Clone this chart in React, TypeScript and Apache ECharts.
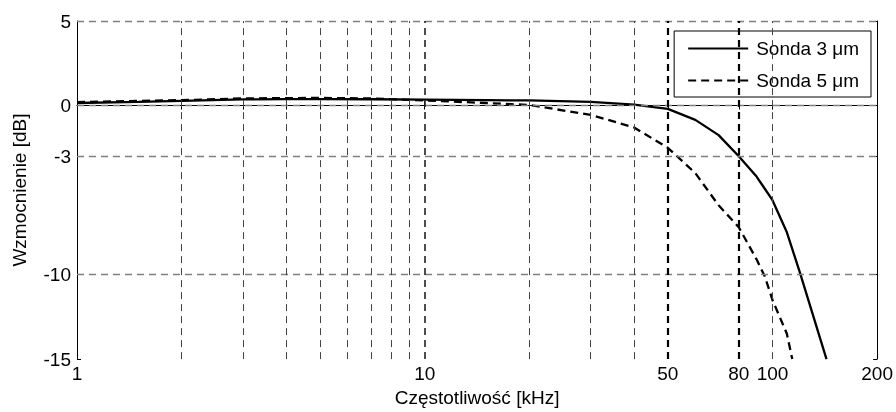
import React, { useEffect, useRef } from "react";
import * as echarts from "echarts";

// Frequency (kHz) and gain (dB)
const freq3 = [1, 1.5, 2, 3, 4, 5, 7, 10, 15, 20, 30, 40, 50, 60, 70, 80, 90, 100, 110, 120, 143];
const gain3 = [0.15, 0.22, 0.28, 0.36, 0.38, 0.38, 0.37, 0.35, 0.32, 0.3, 0.22, 0.05, -0.2, -0.85, -1.75, -3.0, -4.2, -5.6, -7.5, -9.9, -15];
const freq5 = [1, 2, 3, 5, 7, 10, 15, 20, 30, 40, 50, 60, 70, 80, 90, 95, 100, 110, 114];
const gain5 = [0.2, 0.32, 0.42, 0.45, 0.42, 0.3, 0.15, 0.03, -0.55, -1.3, -2.5, -4.0, -5.9, -7.2, -9.1, -10.1, -11.5, -13.5, -15];

const seriesNames = ["Sonda 3 \u03bcm", "Sonda 5 \u03bcm"];
const xTickLabels = [1, 10, 50, 80, 100, 200];
const xMinorTicks = [2, 3, 4, 5, 6, 7, 8, 9, 10, 20, 30, 40, 50, 80, 100];
const xGridThin = [2, 3, 4, 5, 6, 7, 8, 9, 20, 30, 40, 100];
const xGridMid = [10];
const xGridBold = [50, 80];
const yTickLabels = [-15, -10, -3, 0, 5];
const yGrid = [5, 0, -3, -10];

const FONT = "'Liberation Sans', Arial, sans-serif";
const FS = 19;

export default function App() {
  const ref = useRef<HTMLDivElement>(null);
  useEffect(() => {
    if (!ref.current) return;
    const chart = echarts.init(ref.current, undefined, { renderer: "svg" });
    const dash = [7, 5];
    const xAxisBase = {
      type: "log" as const,
      logBase: 10,
      min: 1,
      max: 200,
      splitLine: { show: false },
      minorTick: { show: false },
      axisLine: { show: true, lineStyle: { color: "#000", width: 1 } },
      axisTick: {
        show: true,
        inside: true,
        length: 4,
        customValues: xMinorTicks,
        lineStyle: { color: "#000", width: 1 },
      },
    };
    const yAxisBase = {
      type: "value" as const,
      min: -15,
      max: 5,
      splitLine: { show: false },
      axisLine: { show: true, lineStyle: { color: "#000", width: 1 } },
      axisTick: {
        show: true,
        inside: true,
        length: 4,
        customValues: yTickLabels,
        lineStyle: { color: "#000", width: 1 },
      },
    };
    const mkV = (vals: number[], color: string, width: number) =>
      vals.map((v) => ({ xAxis: v, lineStyle: { color, width, type: dash } }));
    const mkH = (vals: number[]) =>
      vals.map((v) => ({ yAxis: v, lineStyle: { color: "#808080", width: 1.3, type: dash } }));

    chart.setOption({
      animation: false,
      textStyle: { fontFamily: FONT },
      grid: { left: 77, right: 18, top: 21, bottom: 52, containLabel: false },
      xAxis: [
        {
          ...xAxisBase,
          position: "bottom",
          name: "Cz\u0119stotliwo\u015b\u0107 [kHz]",
          nameLocation: "middle",
          nameGap: 27,
          nameTextStyle: { fontSize: FS, color: "#000", fontFamily: FONT },
          axisLabel: {
            show: true,
            customValues: xTickLabels,
            margin: 5,
            fontSize: FS,
            color: "#000",
            fontFamily: FONT,
            formatter: (v: number) => String(Math.round(v)),
          },
        },
        {
          ...xAxisBase,
          position: "top",
          axisLabel: { show: false },
        },
      ],
      yAxis: [
        {
          ...yAxisBase,
          position: "left",
          name: "Wzmocnienie [dB]",
          nameLocation: "middle",
          nameGap: 48,
          nameRotate: 90,
          nameTextStyle: { fontSize: FS, color: "#000", fontFamily: FONT },
          axisLabel: {
            show: true,
            customValues: yTickLabels,
            margin: 6,
            fontSize: FS,
            color: "#000",
            fontFamily: FONT,
          },
        },
        {
          ...yAxisBase,
          position: "right",
          axisLabel: { show: false },
        },
      ],
      legend: {
        data: seriesNames,
        orient: "vertical",
        right: 25,
        top: 31,
        backgroundColor: "#fff",
        borderColor: "#000",
        borderWidth: 1,
        borderRadius: 0,
        padding: [8, 12, 7, 13],
        itemWidth: 60,
        itemHeight: 14,
        itemGap: 13,
        itemStyle: { opacity: 0, color: "transparent", borderWidth: 0 },
        textStyle: { fontSize: FS, color: "#000", fontFamily: FONT, padding: [0, 0, 0, 3] },
      },
      series: [
        {
          name: "grid",
          type: "line",
          data: [],
          z: 1,
          silent: true,
          markLine: {
            silent: true,
            symbol: ["none", "none"],
            label: { show: false },
            animation: false,
            data: [
              ...mkH(yGrid),
              ...mkV(xGridThin, "#444", 1),
              ...mkV(xGridMid, "#222", 1.6),
              ...mkV(xGridBold, "#000", 2.2),
            ],
          },
        },
        {
          name: seriesNames[0],
          type: "line",
          z: 3,
          symbol: "none",
          data: freq3.map((f, i) => [f, gain3[i]]),
          lineStyle: { color: "#000", width: 2.3, type: "solid" },
          itemStyle: { color: "#000" },
        },
        {
          name: seriesNames[1],
          type: "line",
          z: 3,
          symbol: "none",
          data: freq5.map((f, i) => [f, gain5[i]]),
          lineStyle: { color: "#000", width: 2.3, type: [8, 5] },
          itemStyle: { color: "#000" },
        },
      ],
    });
    return () => chart.dispose();
  }, []);
  return (
    <div
      ref={ref}
      style={{ position: "fixed", left: 0, top: 0, width: 896, height: 412 }}
    />
  );
}
